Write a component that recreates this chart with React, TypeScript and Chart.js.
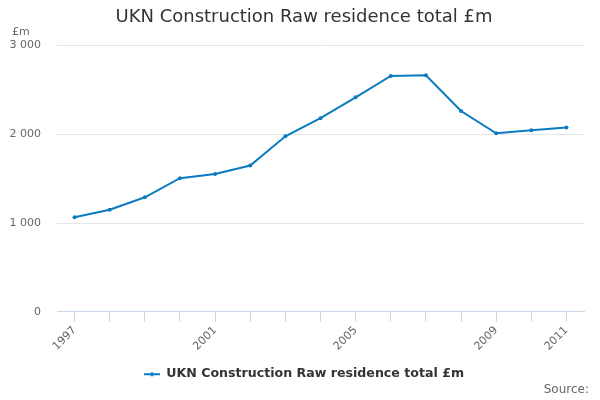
import { useEffect, useRef } from "react";
import { Chart, registerables, type ChartConfiguration, type Plugin } from "chart.js";

Chart.register(...registerables);

const YEARS = ["1997", "1998", "1999", "2000", "2001", "2002", "2003", "2004", "2005", "2006", "2007", "2008", "2009", "2010", "2011"];
const RESIDENCE_TOTAL = [1065, 1150, 1290, 1505, 1552, 1647, 1976, 2180, 2415, 2655, 2662, 2260, 2010, 2045, 2075];
const SHOWN_YEARS = ["1997", "2001", "2005", "2009", "2011"];

const TITLE = "UKN Construction Raw residence total £m";
const SERIES_LABEL = "UKN Construction Raw residence total £m";
const Y_UNIT = "£m";
const SOURCE = "Source:";

const LINE = "#0b7bc1";
const FONT = "'DejaVu Sans', Verdana, sans-serif";

function fmt(v: number): string {
  return String(v).replace(/\B(?=(\d{3})+(?!\d))/g, " ");
}

// little line-with-dot marker for the legend
function legendMarker(): HTMLCanvasElement {
  const c = document.createElement("canvas");
  c.width = 16;
  c.height = 6;
  const g = c.getContext("2d")!;
  g.strokeStyle = LINE;
  g.lineWidth = 2;
  g.beginPath();
  g.moveTo(0, 3);
  g.lineTo(16, 3);
  g.stroke();
  g.fillStyle = LINE;
  g.beginPath();
  g.arc(8, 3, 2, 0, Math.PI * 2);
  g.fill();
  return c;
}

const extraText: Plugin = {
  id: "extraText",
  afterDraw(chart) {
    const ctx = chart.ctx;
    ctx.save();
    ctx.fillStyle = "#666666";
    ctx.textBaseline = "middle";
    ctx.font = `11px ${FONT}`;
    ctx.textAlign = "left";
    ctx.fillText(Y_UNIT, 12, 32);
    ctx.font = `12px ${FONT}`;
    ctx.textAlign = "right";
    ctx.fillText(SOURCE, 589, 390);
    ctx.restore();
  },
};

export default function App() {
  const canvasRef = useRef<HTMLCanvasElement>(null);

  useEffect(() => {
    const ctx = canvasRef.current?.getContext("2d");
    if (!ctx) return;
    Chart.defaults.font.family = FONT;

    const config: ChartConfiguration<"line"> = {
      type: "line",
      data: {
        labels: YEARS,
        datasets: [
          {
            label: SERIES_LABEL,
            data: RESIDENCE_TOTAL,
            borderColor: LINE,
            backgroundColor: LINE,
            borderWidth: 2,
            pointRadius: 2,
            pointBorderWidth: 0,
            pointBackgroundColor: LINE,
            tension: 0,
          },
        ],
      },
      options: {
        responsive: false,
        animation: false,
        layout: { padding: { top: 0, left: 8, right: 0, bottom: 9.5 } },
        plugins: {
          title: {
            display: true,
            text: TITLE,
            color: "#333333",
            font: { size: 18, weight: "normal" },
            padding: { top: 7, bottom: 16.7 },
          },
          legend: {
            position: "bottom",
            labels: {
              color: "#333333",
              font: { size: 12.6, weight: "bold" },
              usePointStyle: true,
              pointStyle: legendMarker(),
              boxWidth: 16,
              pointStyleWidth: 16,
              padding: 10,
            },
          },
          tooltip: { enabled: false },
        },
        scales: {
          x: {
            type: "category",
            offset: true,
            afterFit: (s) => {
              s.height = 46;
            },
            grid: {
              display: true,
              drawOnChartArea: false,
              drawTicks: true,
              tickLength: 10,
              color: "#ccd6eb",
            },
            border: { display: true, color: "#ccd6eb" },
            ticks: {
              autoSkip: false,
              minRotation: 45,
              maxRotation: 45,
              padding: 2,
              color: "#666666",
              font: { size: 11 },
              callback: (_v, i) => (SHOWN_YEARS.includes(YEARS[i]) ? YEARS[i] : ""),
            },
          },
          y: {
            min: 0,
            max: 3000,
            afterFit: (s) => {
              s.width = 49;
            },
            grid: { color: "#e6e6e6", drawTicks: false },
            border: { display: false },
            ticks: {
              stepSize: 1000,
              padding: 16,
              color: "#666666",
              font: { size: 11 },
              callback: (v) => fmt(Number(v)),
            },
          },
          // empty right-hand spacer so the plot stops short of the edge
          spacer: {
            type: "linear",
            position: "right",
            min: 0,
            max: 1,
            afterFit: (s) => {
              s.width = 16;
            },
            grid: { display: false, drawTicks: false },
            border: { display: false },
            ticks: { display: false },
          },
        },
      },
      plugins: [extraText],
    };

    const chart = new Chart(ctx, config);
    return () => chart.destroy();
  }, []);

  return (
    <div style={{ position: "absolute", left: 0, top: 0, width: 600, height: 400, background: "#ffffff" }}>
      <canvas ref={canvasRef} width={600} height={400} />
    </div>
  );
}
